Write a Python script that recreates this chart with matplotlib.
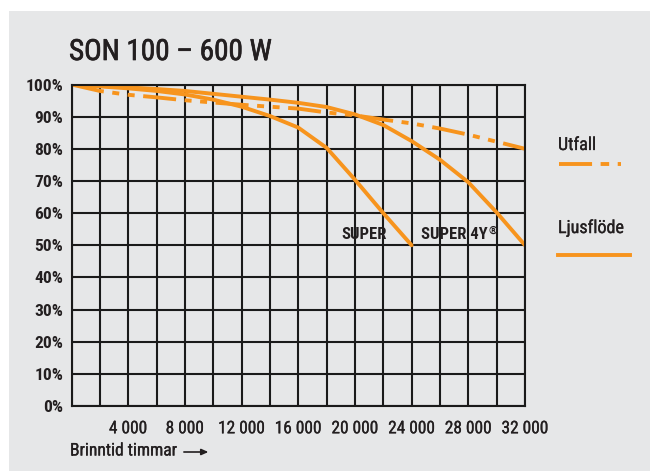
import matplotlib
matplotlib.use("Agg")
import matplotlib.pyplot as plt
from matplotlib.patches import Rectangle, FancyArrowPatch
from matplotlib.lines import Line2D
from matplotlib import font_manager as fm
import matplotlib.patheffects as pe

# ---- data ----
hours = [0, 2000, 4000, 6000, 8000, 10000, 12000, 14000, 16000,
         18000, 20000, 22000, 24000, 26000, 28000, 30000, 32000]
utfall = [100, 98.0, 96.8, 96.0, 95.1, 94.4, 93.7, 93.1, 92.5,
          91.3, 90.4, 89.1, 87.9, 86.3, 84.4, 82.2, 80.0]
super_4y = [100, 99.6, 99.1, 98.6, 98.0, 97.1, 96.2, 95.3, 94.3,
            93.0, 90.7, 87.4, 82.4, 76.6, 69.6, 60.2, 50.0]
hours_super = [0, 2000, 4000, 6000, 8000, 10000, 12000, 14000, 16000,
               18000, 20000, 22000, 24000]
super_std = [100, 99.4, 98.8, 98.0, 96.9, 95.3, 93.1, 90.2, 86.6,
             80.3, 70.4, 60.0, 50.0]

x_ticks = [4000, 8000, 12000, 16000, 20000, 24000, 28000, 32000]
x_tick_labels = ["4 000", "8 000", "12 000", "16 000", "20 000",
                 "24 000", "28 000", "32 000"]
y_ticks = [0, 10, 20, 30, 40, 50, 60, 70, 80, 90, 100]
y_tick_labels = [f"{v}%" for v in y_ticks]

title = "SON 100 \u2013 600 W"
xlabel = "Brinntid timmar"
legend_labels = ["Utfall", "Ljusflöde"]
curve_labels = ["SUPER", "SUPER 4Y"]

# ---- style ----
ORANGE = "#F7941D"
TEXT = "#231F20"
BG = "#E6E7E8"
installed = set(f.name for f in fm.fontManager.ttflist)
prefs = ["Roboto Condensed", "Archivo Narrow", "PT Sans Narrow",
         "Liberation Sans Narrow", "Barlow Condensed"]
FONT = [f for f in prefs if f in installed][:1] + ["DejaVu Sans"]
plt.rcParams["font.family"] = FONT


def heavier(w):
    return [pe.withStroke(linewidth=w, foreground=TEXT)]


W, H = 650, 471
fig = plt.figure(figsize=(W / 100, H / 100), dpi=100, facecolor="white")
fig.patches.append(Rectangle((9 / W, 0), 1 - 9 / W, 1 - 11 / H,
                             transform=fig.transFigure, facecolor=BG,
                             edgecolor="none", zorder=-10))

left, right, top, bottom = 71.5, 525, 84.5, 406
ax = fig.add_axes([left / W, 1 - bottom / H, (right - left) / W, (bottom - top) / H])
ax.set_facecolor(BG)
ax.set_xlim(0, 32000)
ax.set_ylim(0, 100)

ax.set_xticks(x_ticks)
ax.set_xticklabels(x_tick_labels, fontsize=12.5, color=TEXT)
for t in ax.get_xticklabels():
    t.set_path_effects(heavier(0.2))
ax.set_xticks(list(range(0, 32001, 2000)), minor=True)
ax.set_yticks(y_ticks)
ax.set_yticklabels(y_tick_labels, fontsize=12.5, color=TEXT, fontweight="bold")
ax.tick_params(axis="x", which="both", length=0, pad=11)
ax.tick_params(axis="y", which="both", length=0, pad=6)
ax.grid(True, which="both", color="#1a1a1a", linewidth=1.5)
for s in ax.spines.values():
    s.set_color("#1a1a1a")
    s.set_linewidth(1.5)
ax.set_axisbelow(True)

dash = (8.5, 2.2, 1.8, 2.2, 1.8, 2.2)
lw = 2.8
ax.plot(hours, utfall, color=ORANGE, lw=lw, dashes=dash, solid_capstyle="butt")
ax.plot(hours, super_4y, color=ORANGE, lw=lw, solid_capstyle="round")
ax.plot(hours_super, super_std, color=ORANGE, lw=lw, solid_capstyle="round")

ax.text(20660, 53.2, curve_labels[0], fontsize=12, fontweight="bold",
        color=TEXT, ha="center", va="center")
t4 = ax.text(24650, 53.2, curve_labels[1], fontsize=12, fontweight="bold",
             color=TEXT, ha="left", va="center")
fig.canvas.draw()
bb = t4.get_window_extent()
ax.annotate("\u00ae", xy=(bb.x1, bb.y1), xycoords="figure pixels",
            xytext=(0.5, 1.5), textcoords="offset points",
            fontsize=8, fontweight="bold", color=TEXT, ha="left", va="top")

# title
fig.text(69 / W, 1 - 52 / H, title, fontsize=21, color=TEXT, ha="left",
         va="center", path_effects=heavier(0.5))

# legend (manual)
fig.text(558 / W, 1 - 145 / H, legend_labels[0], fontsize=13, color=TEXT,
         ha="left", va="center", path_effects=heavier(0.2))
fig.lines.append(Line2D([559 / W, 621 / W], [1 - 164 / H, 1 - 164 / H],
                        transform=fig.transFigure, color=ORANGE, lw=lw,
                        dashes=(8.5, 2.2, 2.2, 2.2, 2.2, 2.2)))
fig.text(558 / W, 1 - 228 / H, legend_labels[1], fontsize=13, color=TEXT,
         ha="left", va="center", path_effects=heavier(0.2))
fig.lines.append(Line2D([558 / W, 630 / W], [1 - 255 / H, 1 - 255 / H],
                        transform=fig.transFigure, color=ORANGE, lw=lw))

# x label with arrow
xl = fig.text(70 / W, 1 - 451 / H, xlabel, fontsize=12.6, color=TEXT, ha="left",
              va="center", path_effects=heavier(0.2))
fig.canvas.draw()
xb = xl.get_window_extent()
ax0 = xb.x1 + 4
fig.patches.append(FancyArrowPatch(
    (ax0 / W, 1 - 452 / H), ((ax0 + 30) / W, 1 - 452 / H), transform=fig.transFigure,
    arrowstyle="-|>,head_length=4,head_width=1.8", color=TEXT, lw=1.2,
    mutation_scale=1))

fig.savefig("out.png", dpi=100, facecolor="white")
